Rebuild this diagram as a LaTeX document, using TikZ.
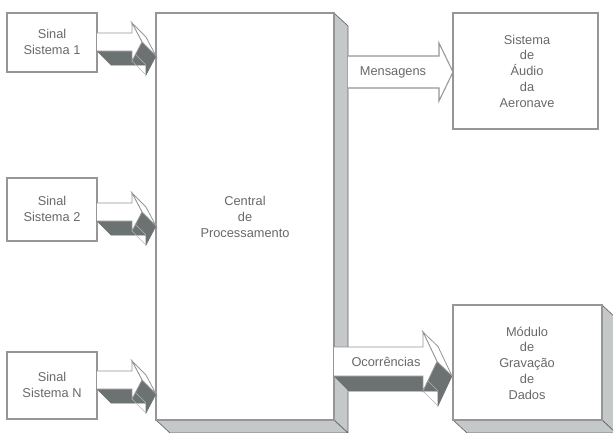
\documentclass[tikz,border=0pt]{standalone}
\usepackage{fontspec}
\setmainfont{Liberation Sans}
\usepackage{tikz}
\usetikzlibrary{positioning}

\definecolor{boxgray}{RGB}{150,150,150}
\definecolor{shadegray}{RGB}{196,200,200}
\definecolor{sidegray}{RGB}{108,113,113}
\definecolor{txtgray}{RGB}{105,105,105}

\tikzset{
  boxline/.style={draw=boxgray,line width=0.8pt,fill=white},
  depthface/.style={draw=gray!80!black,line width=0.5pt,fill=shadegray},
  darkface/.style={draw=sidegray,line width=0.4pt,fill=sidegray},
  edgeline/.style={draw=gray!60,line width=0.3pt},
  boxtext/.style={font=\fontsize{9.6}{11.8}\selectfont,text=txtgray,align=center,inner sep=0pt},
}

\begin{document}
\begin{tikzpicture}[x=0.75pt,y=-0.75pt]
\useasboundingbox (0,0) rectangle (613,432);

% signal boxes
\draw[boxline] (7,13) rectangle (97,72);
\node[boxtext] (sinal1) at (52,42) {Sinal\\Sistema 1};
\draw[boxline] (7,178) rectangle (97,241);
\node[boxtext] (sinal2) at (52,209) {Sinal\\Sistema 2};
\draw[boxline] (7,352) rectangle (97,419);
\node[boxtext] (sinalN) at (52,385) {Sinal\\Sistema N};

% central box with depth
\draw[depthface] (334,13) -- (348,26) -- (348,433) -- (334,420) -- cycle;
\draw[depthface] (156,420) -- (334,420) -- (348,433) -- (170,433) -- cycle;
\draw[boxline] (156,13) rectangle (334,420);
\node[boxtext] (central) at (245,217) {Central\\de\\Processamento};

% input arrows
\begin{scope}[shift={(0,0)}]
\draw[darkface] (97,51) -- (132,51) -- (132,61) -- (142,42) -- (156,56) -- (146,75) -- (146,65) -- (111,65) -- cycle;
\draw[edgeline] (132,51) -- (146,65) (132,61) -- (146,75);
\draw[boxline,line width=0.6pt] (132,23) -- (142,42) -- (156,56) -- (146,37) -- cycle;
\draw[boxline,line width=0.6pt] (97,33) -- (132,33) -- (132,23) -- (142,42) -- (132,61) -- (132,51) -- (97,51);
\end{scope}
\begin{scope}[shift={(0,170)}]
\draw[darkface] (97,51) -- (132,51) -- (132,61) -- (142,42) -- (156,56) -- (146,75) -- (146,65) -- (111,65) -- cycle;
\draw[edgeline] (132,51) -- (146,65) (132,61) -- (146,75);
\draw[boxline,line width=0.6pt] (132,23) -- (142,42) -- (156,56) -- (146,37) -- cycle;
\draw[boxline,line width=0.6pt] (97,33) -- (132,33) -- (132,23) -- (142,42) -- (132,61) -- (132,51) -- (97,51);
\end{scope}
\begin{scope}[shift={(0,338)}]
\draw[darkface] (97,51) -- (132,51) -- (132,61) -- (142,42) -- (156,56) -- (146,75) -- (146,65) -- (111,65) -- cycle;
\draw[edgeline] (132,51) -- (146,65) (132,61) -- (146,75);
\draw[boxline,line width=0.6pt] (132,23) -- (142,42) -- (156,56) -- (146,37) -- cycle;
\draw[boxline,line width=0.6pt] (97,33) -- (132,33) -- (132,23) -- (142,42) -- (132,61) -- (132,51) -- (97,51);
\end{scope}

% audio system
\draw[boxline] (348,56) -- (439,56) -- (439,43) -- (453,72) -- (439,101) -- (439,88) -- (348,88);
\node[boxtext] (msg) at (393,72) {Mensagens};
\draw[boxline] (453,13) rectangle (598,129);
\node[boxtext] (audio) at (527,71) {Sistema\\de\\Áudio\\da\\Aeronave};

% recording module
\draw[depthface] (602,305) -- (616,318) -- (616,433) -- (602,420) -- cycle;
\draw[depthface] (453,420) -- (602,420) -- (616,433) -- (467,433) -- cycle;
\draw[boxline] (453,305) rectangle (602,420);
\node[boxtext] (gravacao) at (527,363) {Módulo\\de\\Gravação\\de\\Dados};

\draw[darkface] (334,376) -- (423,376) -- (423,391) -- (437,361.5) -- (452,376) -- (438,406) -- (438,391) -- (349,391) -- cycle;
\draw[edgeline] (423,376) -- (438,391) (423,391) -- (438,406);
\draw[boxline,line width=0.6pt] (423,332) -- (437,361.5) -- (452,376) -- (438,346.5) -- cycle;
\draw[boxline,line width=0.6pt] (334,347) -- (423,347) -- (423,332) -- (437,361.5) -- (423,391) -- (423,376) -- (334,376);
\node[boxtext] (ocorr) at (386,362) {Ocorrências};

\end{tikzpicture}
\end{document}
